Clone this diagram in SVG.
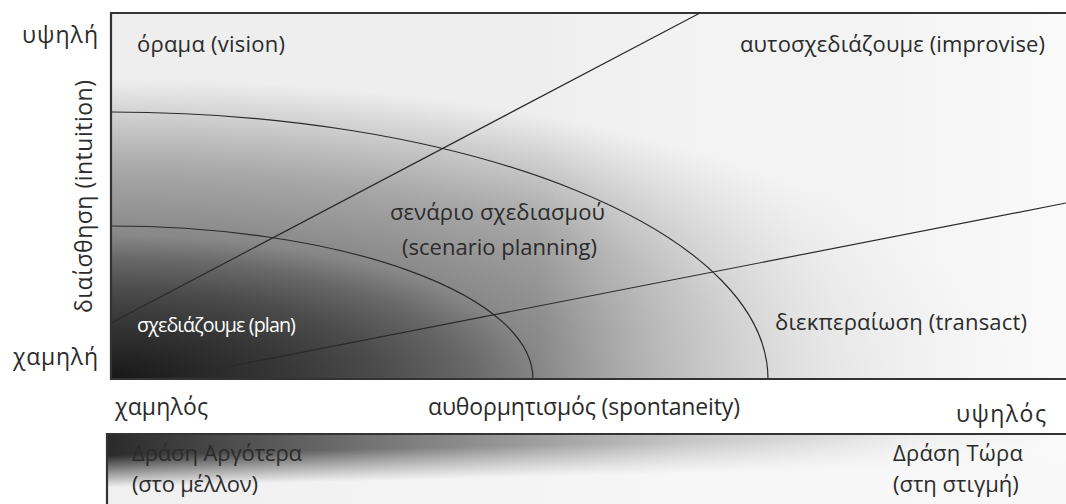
<svg xmlns="http://www.w3.org/2000/svg" width="1066" height="504" viewBox="0 0 1066 504">
  <defs>
    <radialGradient id="mainGrad" gradientUnits="userSpaceOnUse" cx="111" cy="379" r="300" gradientTransform="translate(111 379) scale(3 1) translate(-111 -379)">
      <stop offset="0" stop-color="#181818"/>
      <stop offset="0.2" stop-color="#383838"/>
      <stop offset="0.3" stop-color="#4c4c4c"/>
      <stop offset="0.4" stop-color="#686868"/>
      <stop offset="0.48" stop-color="#888888"/>
      <stop offset="0.7" stop-color="#a8a8a8"/>
      <stop offset="0.82" stop-color="#c2c2c2"/>
      <stop offset="1" stop-color="#eeeeee"/>
    </radialGradient>
    <linearGradient id="mainFade" gradientUnits="userSpaceOnUse" x1="540" y1="0" x2="1066" y2="0">
      <stop offset="0" stop-color="#ffffff" stop-opacity="0"/>
      <stop offset="0.55" stop-color="#f4f4f4" stop-opacity="0.75"/>
      <stop offset="1" stop-color="#fafafa" stop-opacity="0.97"/>
    </linearGradient>
    <linearGradient id="barGrad" gradientUnits="userSpaceOnUse" x1="107" y1="0" x2="1066" y2="0">
      <stop offset="0" stop-color="#2a2a2a"/>
      <stop offset="0.3" stop-color="#7a7a7a"/>
      <stop offset="0.6" stop-color="#c4c4c4"/>
      <stop offset="0.85" stop-color="#eeeeee"/>
      <stop offset="1" stop-color="#f8f8f8"/>
    </linearGradient>
    <linearGradient id="barFade" gradientUnits="userSpaceOnUse" x1="0" y1="458" x2="0" y2="490" gradientTransform="skewY(-1.4)">
      <stop offset="0" stop-color="#ffffff" stop-opacity="0"/>
      <stop offset="1" stop-color="#f8f8f8" stop-opacity="0.96"/>
    </linearGradient>
    <style>
      .t { font-family: "Open Sans", "Noto Sans", "DejaVu Sans", sans-serif; font-size: 22px; fill: #2b2b2b; }
      .ax { font-family: "Open Sans", "Noto Sans", "DejaVu Sans", sans-serif; font-size: 23px; fill: #2b2b2b; }
      .w { font-family: "Open Sans", "Noto Sans", "DejaVu Sans", sans-serif; font-size: 20px; fill: #ffffff; letter-spacing: -0.9px; }
      .ln { fill: none; stroke: #2a2a2a; stroke-width: 1.2; }
      .frame { fill: none; stroke: #333333; stroke-width: 2.2; }
    </style>
  </defs>

  <rect x="0" y="0" width="1066" height="504" fill="#ffffff"/>

  <g id="chart-area">
    <rect x="111" y="13" width="960" height="366" fill="url(#mainGrad)"/>
    <rect x="111" y="13" width="960" height="366" fill="url(#mainFade)"/>
  </g>

  <g id="connectors">
    <path class="ln" d="M111,112 A657,267 0 0 1 768,379"/>
    <path class="ln" d="M111,226 A422,153 0 0 1 533,379"/>
    <line class="ln" x1="111" y1="323" x2="700" y2="13"/>
    <line class="ln" x1="165" y1="379" x2="1066" y2="203"/>
  </g>

  <g id="frame">
    <polyline class="frame" points="1070,13 111,13 111,379 1070,379"/>
  </g>

  <g id="bar">
    <rect x="107" y="434" width="965" height="75" fill="url(#barGrad)"/>
    <rect x="107" y="434" width="965" height="75" fill="url(#barFade)"/>
    <polyline class="frame" points="1070,434 107,434 107,508"/>
    <text class="t" x="132" y="461" textLength="170" lengthAdjust="spacing">Δράση Αργότερα</text>
    <text class="t" x="132" y="492" textLength="126" lengthAdjust="spacing">(στο μέλλον)</text>
    <text class="t" x="893" y="461" textLength="130" lengthAdjust="spacing">Δράση Τώρα</text>
    <text class="t" x="893" y="492">(στη στιγμή)</text>
  </g>

  <g id="label-vision"><text class="t" x="137" y="52" textLength="148" lengthAdjust="spacing">όραμα (vision)</text></g>
  <g id="label-improvise"><text class="t" x="740" y="52" textLength="305" lengthAdjust="spacing">αυτοσχεδιάζουμε (improvise)</text></g>
  <g id="label-scenario">
    <text class="t" x="390" y="220" textLength="215" lengthAdjust="spacing">σενάριο σχεδιασμού</text>
    <text class="t" x="402" y="255" textLength="195" lengthAdjust="spacing">(scenario planning)</text>
  </g>
  <g id="label-plan"><text class="w" x="137" y="332" textLength="158" lengthAdjust="spacingAndGlyphs">σχεδιάζουμε (plan)</text></g>
  <g id="label-transact"><text class="t" x="775" y="330" textLength="252" lengthAdjust="spacing">διεκπεραίωση (transact)</text></g>

  <g id="axis-y">
    <text class="ax" x="22" y="43" textLength="76" lengthAdjust="spacing">υψηλή</text>
    <text class="ax" x="13" y="365" textLength="85" lengthAdjust="spacing">χαμηλή</text>
    <text class="ax" transform="translate(92 313) rotate(-90)" font-size="24" textLength="233" lengthAdjust="spacing">διαίσθηση (intuition)</text>
  </g>

  <g id="axis-x">
    <text class="ax" x="115" y="415" textLength="93" lengthAdjust="spacing">χαμηλός</text>
    <text class="ax" x="428" y="415" textLength="312" lengthAdjust="spacing">αυθορμητισμός (spontaneity)</text>
    <text class="ax" x="956" y="422" textLength="90" lengthAdjust="spacing">υψηλός</text>
  </g>
</svg>
